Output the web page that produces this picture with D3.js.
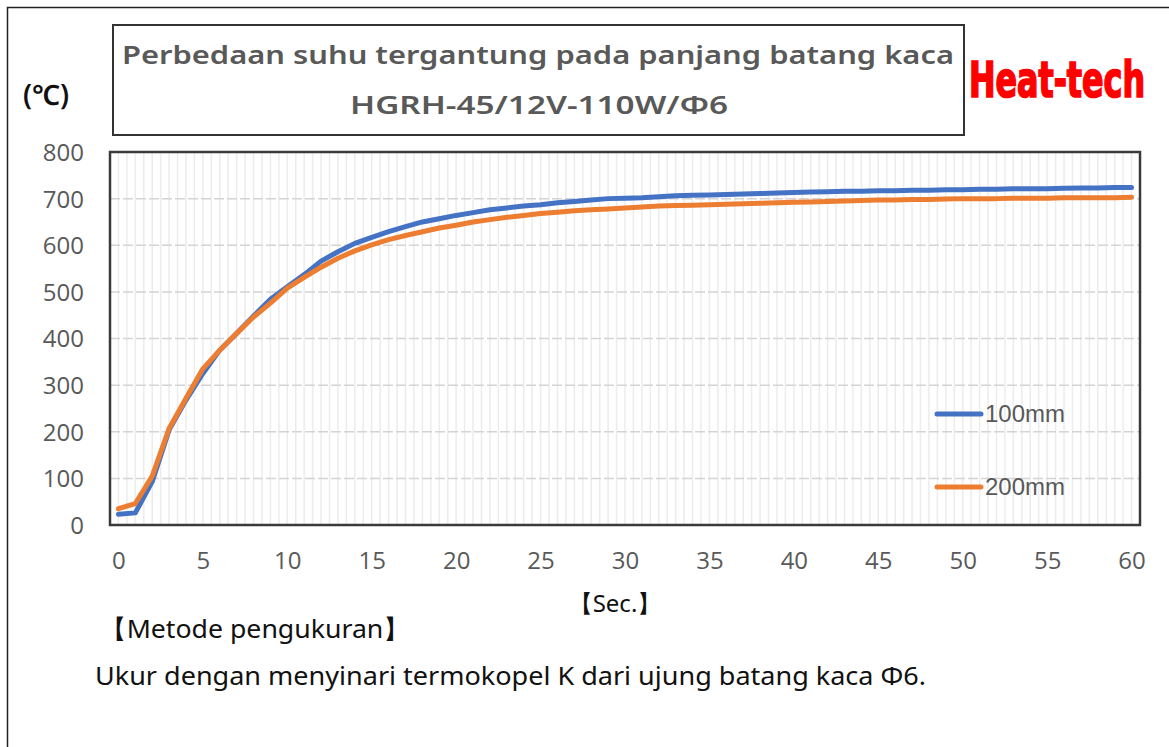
<!DOCTYPE html>
<html>
<head>
    <script src="https://cdnjs.cloudflare.com/ajax/libs/d3/7.8.5/d3.min.js"></script>
    <style>
        body { margin: 0; background: #fff; }
        text { font-family: 'Noto Sans', 'Open Sans', sans-serif; }
    </style>
</head>
<body>
    <div id="root"></div>
    <script>
        // seconds 0..60
        const seconds = d3.range(0, 61)
        const yTicks = [0, 100, 200, 300, 400, 500, 600, 700, 800]
        const xTicks = [0, 5, 10, 15, 20, 25, 30, 35, 40, 45, 50, 55, 60]
        const seriesNames = ['100mm', '200mm']
        const colors = ['#4472C4', '#ED7D31']

        const temp100 = [23, 26, 93, 204, 268, 325, 375, 411, 448, 484, 511, 537, 566, 586, 604, 617, 629, 640, 650, 657,
            664, 670, 676, 680, 684, 687, 691, 694, 697, 700, 701, 702, 704, 706, 707, 708, 709, 710, 711, 712,
            713, 714, 715, 716, 716, 717, 717, 718, 718, 719, 719, 720, 720, 721, 721, 721, 722, 723, 723, 724, 724]
        const temp200 = [35, 46, 105, 207, 272, 335, 375, 411, 446, 476, 508, 531, 553, 572, 588, 601, 612, 621, 629, 637,
            643, 650, 655, 660, 664, 668, 671, 674, 676, 678, 680, 682, 684, 685, 686, 687, 688, 689, 690, 691,
            692, 693, 694, 695, 696, 697, 697, 698, 698, 699, 700, 700, 700, 701, 701, 701, 702, 702, 702, 702, 703]

        const W = 1169, H = 747
        const plot = { left: 110, top: 152, right: 1140, bottom: 525 }

        const svg = d3.select('#root').append('svg')
            .attr('width', W).attr('height', H)

        // outer frame
        svg.append('rect')
            .attr('x', 7.5).attr('y', 7.5).attr('width', W).attr('height', H)
            .attr('fill', 'none').attr('stroke', '#222').attr('stroke-width', 1.5)

        const x = d3.scaleLinear().domain([-0.5, 60.5]).range([plot.left, plot.right])
        const y = d3.scaleLinear().domain([0, 800]).range([plot.bottom, plot.top])

        // vertical light grid every 0.5 s
        svg.append('g').selectAll('line')
            .data(d3.range(0, 121).map(d => d / 2))
            .enter().append('line')
            .attr('x1', d => x(d)).attr('x2', d => x(d))
            .attr('y1', plot.top).attr('y2', plot.bottom)
            .attr('stroke', '#ececec').attr('stroke-width', 1.5)

        // horizontal dashed grid
        svg.append('g').selectAll('line')
            .data(yTicks.slice(1, -1))
            .enter().append('line')
            .attr('x1', plot.left).attr('x2', plot.right)
            .attr('y1', d => y(d)).attr('y2', d => y(d))
            .attr('stroke', '#d4d4d4').attr('stroke-width', 1.5)
            .attr('stroke-dasharray', '10,3')

        // axes (labels only)
        const yAxis = svg.append('g')
            .attr('transform', `translate(${plot.left - 26},0)`)
            .call(d3.axisLeft(y).tickValues(yTicks).tickSize(0).tickPadding(0))
        const xAxis = svg.append('g')
            .attr('transform', `translate(0,${plot.bottom + 26})`)
            .call(d3.axisBottom(x).tickValues(xTicks).tickSize(0).tickPadding(0))
        ;[yAxis, xAxis].forEach(a => {
            a.select('.domain').remove()
            a.selectAll('text')
                .attr('fill', '#595959')
                .style('font-size', '24px')
                .style('font-family', "'Open Sans', sans-serif")
        })
        yAxis.selectAll('text').attr('dy', '0.35em')
        xAxis.selectAll('text').attr('dy', '0.75em')

        // series lines
        const line = d3.line().x((d, i) => x(seconds[i])).y(d => y(d))
        ;[temp100, temp200].forEach((s, k) => {
            svg.append('path')
                .datum(s)
                .attr('d', line)
                .attr('fill', 'none')
                .attr('stroke', colors[k])
                .attr('stroke-width', 5)
                .attr('stroke-linejoin', 'round')
                .attr('stroke-linecap', 'round')
        })

        // plot border
        svg.append('rect')
            .attr('x', plot.left).attr('y', plot.top)
            .attr('width', plot.right - plot.left).attr('height', plot.bottom - plot.top)
            .attr('fill', 'none').attr('stroke', '#3a3a3a').attr('stroke-width', 2.5)

        // legend
        const legend = svg.append('g')
        seriesNames.forEach((n, k) => {
            const ly = 414 + k * 73
            legend.append('line')
                .attr('x1', 937).attr('x2', 981).attr('y1', ly).attr('y2', ly)
                .attr('stroke', colors[k]).attr('stroke-width', 5).attr('stroke-linecap', 'round')
            legend.append('text')
                .attr('x', 985).attr('y', ly).attr('dy', '0.35em')
                .attr('fill', '#595959')
                .style('font-size', '24px')
                .style('font-family', "'Liberation Sans', Arial, sans-serif")
                .text(n)
        })

        // title box
        svg.append('rect')
            .attr('x', 113).attr('y', 25).attr('width', 851).attr('height', 110)
            .attr('fill', 'none').attr('stroke', '#333').attr('stroke-width', 2)
        svg.append('text')
            .attr('x', 538).attr('y', 64).attr('text-anchor', 'middle')
            .attr('fill', '#595959').style('font-size', '26px').style('font-weight', 600)
            .attr('textLength', 832).attr('lengthAdjust', 'spacingAndGlyphs')
            .text('Perbedaan suhu tergantung pada panjang batang kaca')
        svg.append('text')
            .attr('x', 539).attr('y', 114).attr('text-anchor', 'middle')
            .attr('fill', '#595959').style('font-size', '26px').style('font-weight', 600)
            .attr('textLength', 378).attr('lengthAdjust', 'spacingAndGlyphs')
            .text('HGRH-45/12V-110W/Φ6')

        // brand: small condensed font stretched vertically
        svg.append('text')
            .attr('transform', 'translate(1057,97) scale(1,1.45)')
            .attr('text-anchor', 'middle')
            .attr('fill', '#ff0000').attr('stroke', '#ff0000').attr('stroke-width', 1.2)
            .style('font-size', '34px').style('font-weight', 'bold')
            .style('font-family', "'DejaVu Sans Condensed', 'DejaVu Sans', sans-serif")
            .attr('textLength', 176).attr('lengthAdjust', 'spacingAndGlyphs')
            .text('Heat-tech')

        // unit
        svg.append('text')
            .attr('x', 23).attr('y', 105)
            .attr('fill', '#111').style('font-size', '28px').style('font-weight', 600)
            .text('(℃)')

        // axis title + notes
        svg.append('text')
            .attr('x', 615).attr('y', 612).attr('text-anchor', 'middle')
            .attr('fill', '#111').style('font-size', '24px')
            .text('【Sec.】')
        svg.append('text')
            .attr('x', 100).attr('y', 638)
            .attr('fill', '#111').style('font-size', '26px')
            .attr('textLength', 310).attr('lengthAdjust', 'spacingAndGlyphs')
            .text('【Metode pengukuran】')
        svg.append('text')
            .attr('x', 95).attr('y', 685)
            .attr('fill', '#111').style('font-size', '26px')
            .attr('textLength', 831).attr('lengthAdjust', 'spacingAndGlyphs')
            .text('Ukur dengan menyinari termokopel K dari ujung batang kaca Φ6.')
    </script>
</body>
</html>
